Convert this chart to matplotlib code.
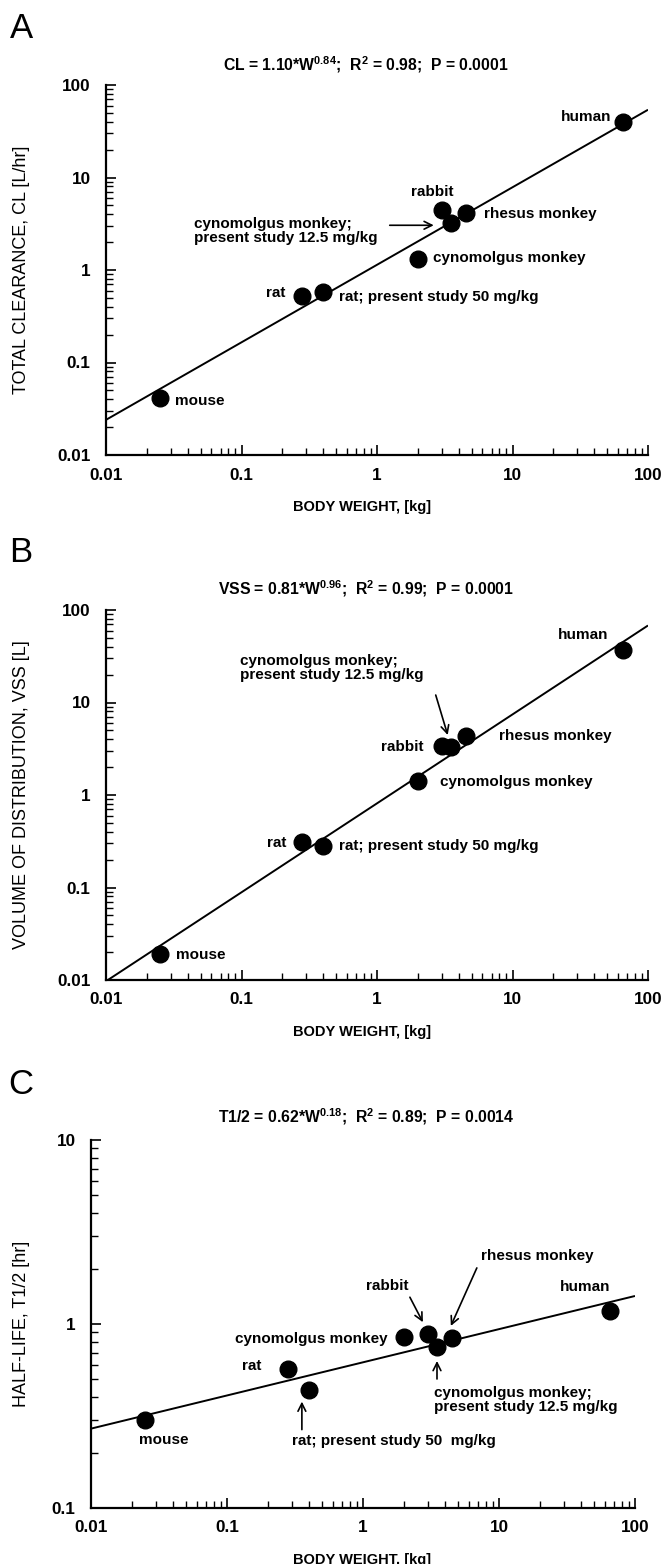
import matplotlib
matplotlib.use('Agg')
import matplotlib.pyplot as plt
from matplotlib.ticker import LogLocator, FixedLocator, FixedFormatter, NullFormatter
from matplotlib.transforms import offset_copy

plt.rcParams['font.family'] = ['Liberation Sans', 'DejaVu Sans']
plt.rcParams['mathtext.default'] = 'regular'

# body weight [kg] of each species (same in all three panels)
species = ['mouse', 'rat', 'rat_present', 'cyno', 'rabbit', 'cyno_present', 'rhesus', 'human']
weight = [0.025, 0.28, 0.40, 2.0, 3.0, 3.5, 4.5, 65]

# panel values
cl = [0.041, 0.52, 0.58, 1.3, 4.4, 3.2, 4.1, 40]
vss = [0.019, 0.31, 0.28, 1.42, 3.4, 3.3, 4.3, 37]
t_half = [0.30, 0.57, 0.44, 0.85, 0.88, 0.75, 0.84, 1.18]

# regression line end points
fit_x = [0.01, 100]
fit_cl = [0.024, 54]
fit_vss = [0.0097, 68]
fit_t = [0.27, 1.42]

titles = [r'CL = 1.10*W$^{0.84}$;  R$^{2}$ = 0.98;  P = 0.0001',
          r'VSS = 0.81*W$^{0.96}$;  R$^{2}$ = 0.99;  P = 0.0001',
          r'T1/2 = 0.62*W$^{0.18}$;  R$^{2}$ = 0.89;  P = 0.0014']
ylabels = ['TOTAL CLEARANCE, CL [L/hr]', 'VOLUME OF DISTRIBUTION, VSS [L]', 'HALF-LIFE, T1/2 [hr]']
letters = ['A', 'B', 'C']

# labels: (species index, text, text offset px, ha, arrow tail px, arrow head px)
cyp = 'cynomolgus monkey;\npresent study 12.5 mg/kg'
labels_a = [
    (7, 'human', (-11, 5), 'right', None, None),
    (4, 'rabbit', (-9, 18), 'center', None, None),
    (6, 'rhesus monkey', (18, -1), 'left', None, None),
    (5, cyp, (-257, -8), 'left', (-61, -2), (-17, -2)),
    (3, 'cynomolgus monkey', (15, 1), 'left', None, None),
    (1, 'rat', (-17, 3), 'right', None, None),
    (2, 'rat; present study 50 mg/kg', (16, -5), 'left', None, None),
    (0, 'mouse', (15, -3), 'left', None, None),
]
labels_b = [
    (7, 'human', (-14, 15), 'right', None, None),
    (5, cyp, (-211, 79), 'left', (-15, 52), (-3, 12)),
    (4, 'rabbit', (-18, -1), 'right', None, None),
    (6, 'rhesus monkey', (33, 0), 'left', None, None),
    (3, 'cynomolgus monkey', (22, -1), 'left', None, None),
    (1, 'rat', (-16, -1), 'right', None, None),
    (2, 'rat; present study 50 mg/kg', (16, 0), 'left', None, None),
    (0, 'mouse', (16, -1), 'left', None, None),
]
labels_c = [
    (0, 'mouse', (-6, -20), 'left', None, None),
    (1, 'rat', (-26, 3), 'right', None, None),
    (2, 'rat; present study 50  mg/kg', (-17, -51), 'left', (-7, -40), (-7, -12)),
    (3, 'cynomolgus monkey', (-16, -2), 'right', None, None),
    (4, 'rabbit', (-41, 48), 'center', (-18, 37), (-5, 12)),
    (5, cyp, (-3, -53), 'left', (0, -32), (0, -14)),
    (6, 'rhesus monkey', (29, 82), 'left', (25, 70), (-1, 12)),
    (7, 'human', (1, 24), 'right', None, None),
]

fig = plt.figure(figsize=(6.64, 15.64), dpi=100)
W, H = 664.0, 1564.0

# axes boxes in pixels: left, top, right, bottom
boxes = [(106, 85, 648, 455), (106, 610, 648, 980), (91, 1140, 635, 1508)]
ylims = [(0.01, 100), (0.01, 100), (0.1, 10)]
values = [cl, vss, t_half]
fits = [fit_cl, fit_vss, fit_t]
all_labels = [labels_a, labels_b, labels_c]
letter_y = [29, 552, 1085]
xlab_y = [500, 1025, 1553]
title_y = [65, 589, 1117]
ylab_x = 30
center_x = 366

fs = 11
for k in range(3):
    l, t, r, b = boxes[k]
    ax = fig.add_axes([l / W, 1 - b / H, (r - l) / W, (b - t) / H])
    ax.set_xscale('log')
    ax.set_yscale('log')
    ax.set_xlim(0.01, 100)
    ax.set_ylim(*ylims[k])

    ax.plot(fit_x, fits[k], color='black', lw=1.4, solid_capstyle='butt', zorder=2)
    ax.plot(weight, values[k], 'o', color='black', ms=12, zorder=3)

    for sp in ['top', 'right']:
        ax.spines[sp].set_visible(False)
    for sp in ['left', 'bottom']:
        ax.spines[sp].set_linewidth(1.6)

    xt = [0.01, 0.1, 1, 10, 100]
    ax.xaxis.set_major_locator(FixedLocator(xt))
    ax.xaxis.set_major_formatter(FixedFormatter(['0.01', '0.1', '1', '10', '100']))
    ax.xaxis.set_minor_locator(LogLocator(base=10, subs=range(2, 10), numticks=20))
    ax.xaxis.set_minor_formatter(NullFormatter())
    if k < 2:
        yt = [0.01, 0.1, 1, 10, 100]
        ytl = ['0.01', '0.1', '1', '10', '100']
    else:
        yt = [0.1, 1, 10]
        ytl = ['0.1', '1', '10']
    ax.yaxis.set_major_locator(FixedLocator(yt))
    ax.yaxis.set_major_formatter(FixedFormatter(ytl))
    ax.yaxis.set_minor_locator(LogLocator(base=10, subs=range(2, 10), numticks=20))
    ax.yaxis.set_minor_formatter(NullFormatter())

    ax.tick_params(which='major', direction='in', length=7, width=1.2, labelsize=12.3, pad=9)
    ax.tick_params(which='minor', direction='in', length=5, width=1.0)
    for lab in ax.get_xticklabels() + ax.get_yticklabels():
        lab.set_fontweight('bold')
    ax.tick_params(axis='y', which='major', pad=11)

    ax.set_ylabel(ylabels[k], fontsize=13)
    ax.yaxis.set_label_coords((ylab_x - l) / (r - l), 0.5)
    ax.set_xlabel('BODY WEIGHT, [kg]', fontsize=10.5, fontweight='bold')
    ax.xaxis.set_label_coords((362 - l) / (r - l), -(xlab_y[k] - b) / (b - t))

    ax.text((center_x - l) / (r - l), (b - title_y[k]) / (b - t), titles[k],
            transform=ax.transAxes, ha='center', va='center', fontsize=11.3, fontweight='bold')
    fig.text(21 / W, 1 - letter_y[k] / H, letters[k], fontsize=25, ha='center', va='center')

    for i, text, off, ha, tail, head in all_labels[k]:
        ax.annotate(text, xy=(weight[i], values[k][i]), xytext=off, textcoords='offset pixels',
                    ha=ha, va='center', fontsize=fs, fontweight='bold', linespacing=1.0)
        if tail is not None:
            tr = offset_copy(ax.transData, fig=fig, x=head[0], y=head[1], units='dots')
            ax.annotate('', xy=(weight[i], values[k][i]), xycoords=tr,
                        xytext=(tail[0] - head[0], tail[1] - head[1]), textcoords='offset pixels',
                        arrowprops=dict(arrowstyle='->', color='black', lw=1.2,
                                        shrinkA=0, shrinkB=0, mutation_scale=14))

fig.savefig('out.png', dpi=100)
